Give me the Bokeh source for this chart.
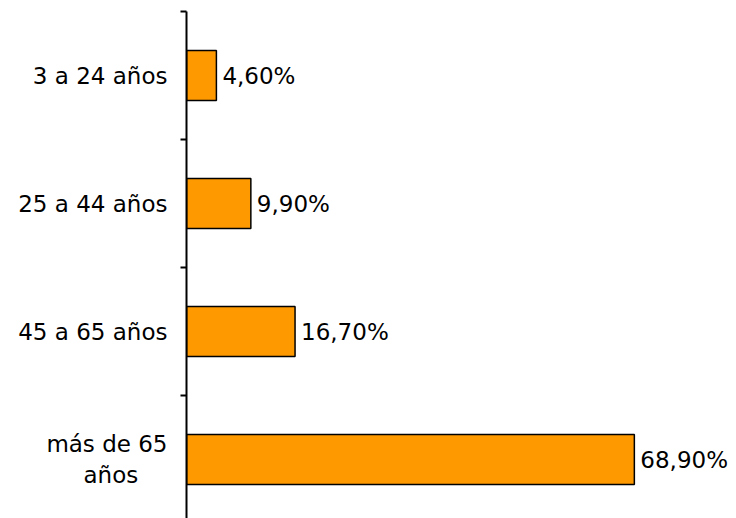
from bokeh.plotting import figure
from bokeh.models import ColumnDataSource, LabelSet, FixedTicker, Range1d
from bokeh.core.properties import value
from bokeh.embed import file_html
from bokeh.resources import INLINE

categories = ["3 a 24 años", "25 a 44 años", "45 a 65 años", "más de 65\naños\u00a0\u00a0\u00a0\u00a0"]
values = [4.6, 9.9, 16.7, 68.9]

n = len(categories)
positions = [n - 1 - i for i in range(n)]
labels = [f"{v:.2f}".replace(".", ",") + "%" for v in values]

src = ColumnDataSource(dict(y=positions, v=values, lab=labels))

FONT = "DejaVu Sans"
FS = "23px"

p = figure(width=736, height=518, output_backend="svg", toolbar_location=None,
           x_axis_location=None, x_range=Range1d(0, (736 - 186) / 6.5),
           y_range=Range1d(n - 0.5 - (518 - 11) / 128, n - 0.5),
           min_border_left=186, min_border_right=0, min_border_top=11, min_border_bottom=0)
p.outline_line_color = None
p.xgrid.visible = False
p.ygrid.visible = False

p.hbar(y="y", right="v", left=0, height=0.39, source=src,
       fill_color="#FF9900", line_color="black", line_width=1.5)

p.add_layout(LabelSet(x="v", y="y", text="lab", source=src, x_offset=6,
                      text_baseline="middle", text_align="left",
                      text_font=value(FONT), text_font_size=FS, text_color="black"))

ax = p.yaxis[0]
ax.ticker = FixedTicker(ticks=positions, minor_ticks=[k + 0.5 for k in range(-1, n)])
ax.major_label_overrides = {pos: cat for pos, cat in zip(positions, categories)}
ax.major_tick_out = 0
ax.major_tick_in = 0
ax.minor_tick_out = 6
ax.minor_tick_in = 0
ax.minor_tick_line_width = 2
ax.minor_tick_line_color = "black"
ax.axis_line_width = 2
ax.axis_line_color = "black"
ax.major_label_standoff = 13
ax.major_label_text_font = FONT
ax.major_label_text_font_size = FS
ax.major_label_text_color = "black"

open("out.html", "w").write(file_html(p, INLINE))
